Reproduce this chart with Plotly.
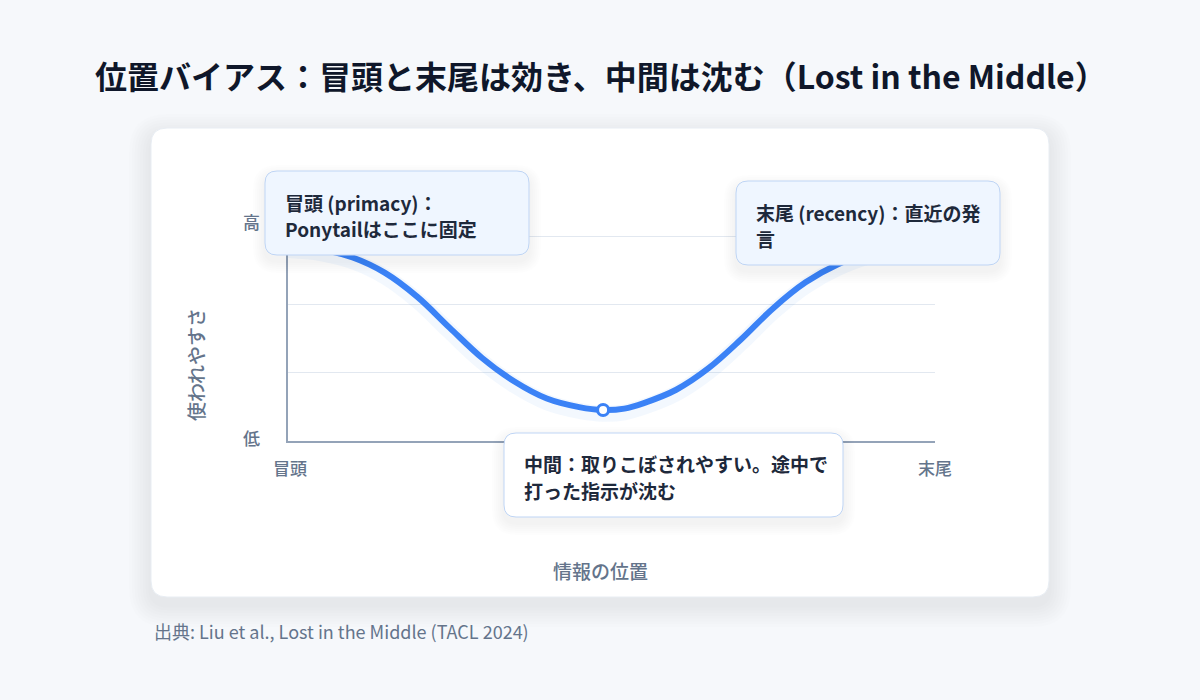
import plotly.graph_objects as go

# ---------------- data ----------------
positions = [0, 5, 10, 15, 20, 25, 30, 35, 40, 45, 48.7, 52, 55, 60, 65, 70, 75, 80, 85, 90, 95, 100]
usage = [0.95, 0.935, 0.895, 0.82, 0.703, 0.552, 0.405, 0.29, 0.207, 0.165, 0.151, 0.158, 0.185, 0.25, 0.355, 0.495, 0.648, 0.774, 0.862, 0.92, 0.948, 0.96]
x_tick_labels = ["冒頭", "末尾"]
y_tick_labels = ["低", "高"]
grid_values = [0, 1/3, 2/3, 1]

title_text = "位置バイアス：冒頭と末尾は効き、中間は沈む（Lost in the Middle）"
x_title = "情報の位置"
y_title = "使われやすさ"
caption = "出典: Liu et al., Lost in the Middle (TACL 2024)"
callout_primacy = ["冒頭 (primacy)：", "Ponytailはここに固定"]
callout_recency = ["末尾 (recency)：直近の発", "言"]
callout_middle = ["中間：取りこぼされやすい。途中で", "打った指示が沈む"]

# ---------------- layout helpers ----------------
W, H = 1200, 700
PL, PR, PT, PB = 288, 935, 236, 441
Y_TOP = 1.02
PT_DOMAIN = PB - (PB - PT) * Y_TOP
FONT = "Noto Sans CJK JP"
BLUE = "#3b82f6"
DARK = "#0f172a"
TEXT = "#1e293b"
MUTED = "#64748b"


def X(px):
    return px / W


def Y(py):
    return 1 - py / H


def rrect_path(x0, y0, x1, y1, r):
    return (
        f"M {X(x0 + r)},{Y(y0)} L {X(x1 - r)},{Y(y0)} "
        f"Q {X(x1)},{Y(y0)} {X(x1)},{Y(y0 + r)} L {X(x1)},{Y(y1 - r)} "
        f"Q {X(x1)},{Y(y1)} {X(x1 - r)},{Y(y1)} L {X(x0 + r)},{Y(y1)} "
        f"Q {X(x0)},{Y(y1)} {X(x0)},{Y(y1 - r)} L {X(x0)},{Y(y0 + r)} "
        f"Q {X(x0)},{Y(y0)} {X(x0 + r)},{Y(y0)} Z"
    )


shapes = []
annotations = []


def add_shadow(x0, y0, x1, y1, r, layer, steps, spread, dy, alpha):
    for i in range(steps):
        e = spread * (i + 1) / steps
        shapes.append(dict(
            type="path", xref="paper", yref="paper", layer=layer,
            path=rrect_path(x0 - e, y0 - e + dy, x1 + e, y1 + e + dy, r + e),
            fillcolor=f"rgba(15,23,42,{alpha})", line=dict(width=0),
        ))


def add_box(x0, y0, x1, y1, r, fill, border, layer):
    shapes.append(dict(
        type="path", xref="paper", yref="paper", layer=layer,
        path=rrect_path(x0, y0, x1, y1, r),
        fillcolor=fill, line=dict(color=border, width=1),
    ))


def add_text(px, py, text, size, color, weight=400, xanchor="left", angle=0):
    annotations.append(dict(
        x=X(px), y=Y(py), xref="paper", yref="paper", text=text, showarrow=False,
        xanchor=xanchor, yanchor="middle", textangle=angle,
        font=dict(family=FONT, size=size, color=color, weight=weight),
    ))


# card
add_shadow(151, 128, 1049, 597, 16, "below", 8, 22, 8, 0.007)
add_box(151, 128, 1049, 597, 16, "#ffffff", "#e8edf3", "below")


def callout(x0, y0, x1, y1, lines, fill):
    add_shadow(x0, y0, x1, y1, 12, "above", 6, 12, 6, 0.009)
    add_box(x0, y0, x1, y1, 12, fill, "#bfd5f5", "above")
    for i, line in enumerate(lines):
        add_text(x0 + 18, y0 + 31 + i * 26.5, line, 19, TEXT, 700)


callout(265, 171, 529, 255, callout_primacy, "#eff6ff")
callout(736, 181, 1000, 265, callout_recency, "#eff6ff")
callout(504, 433, 843, 517, callout_middle, "#ffffff")

# texts
add_text(93, 75, title_text, 32, DARK, 700)
add_text(152, 631, caption, 18, MUTED, 400)
add_text(600, 570, x_title, 19, MUTED, 500, xanchor="center")
add_text(195, 365, y_title, 19, MUTED, 500, xanchor="center", angle=-90)
add_text(PL + 2, 467, x_tick_labels[0], 17, MUTED, 500, xanchor="center")
add_text(PR, 467, x_tick_labels[1], 17, MUTED, 500, xanchor="center")
add_text(251, 438, y_tick_labels[0], 17, MUTED, 500, xanchor="center")
add_text(251, 221, y_tick_labels[1], 17, MUTED, 500, xanchor="center")

# ---------------- figure ----------------
i_min = usage.index(min(usage))

fig = go.Figure()
fig.add_trace(go.Scatter(
    x=positions, y=[v - 0.018 for v in usage], mode="lines",
    line=dict(color="rgba(59,130,246,0.06)", width=16, shape="spline", smoothing=1),
    hoverinfo="skip", showlegend=False,
))
fig.add_trace(go.Scatter(
    x=positions, y=usage, mode="lines",
    line=dict(color=BLUE, width=6, shape="spline", smoothing=1),
    showlegend=False,
))
fig.add_trace(go.Scatter(
    x=[positions[i_min]], y=[usage[i_min]], mode="markers",
    marker=dict(size=11, color="#ffffff", line=dict(color=BLUE, width=3)),
    showlegend=False, cliponaxis=False,
))

fig.update_layout(
    width=W, height=H,
    margin=dict(l=0, r=0, t=0, b=0),
    paper_bgcolor="#f6f8fb",
    plot_bgcolor="rgba(0,0,0,0)",
    shapes=shapes,
    annotations=annotations,
    xaxis=dict(
        domain=[X(PL), X(PR)], range=[0, 100], showgrid=False, zeroline=False,
        showline=True, linecolor="#94a3b8", linewidth=2, showticklabels=False,
        ticks="", fixedrange=True,
    ),
    yaxis=dict(
        domain=[Y(PB), Y(PT_DOMAIN)], range=[0, Y_TOP], tickvals=grid_values,
        showgrid=True, gridcolor="#e2e8f0", gridwidth=1, zeroline=False,
        showline=True, linecolor="#94a3b8", linewidth=2, showticklabels=False,
        ticks="", fixedrange=True,
    ),
    font=dict(family=FONT),
)

fig.write_html("out.html")
